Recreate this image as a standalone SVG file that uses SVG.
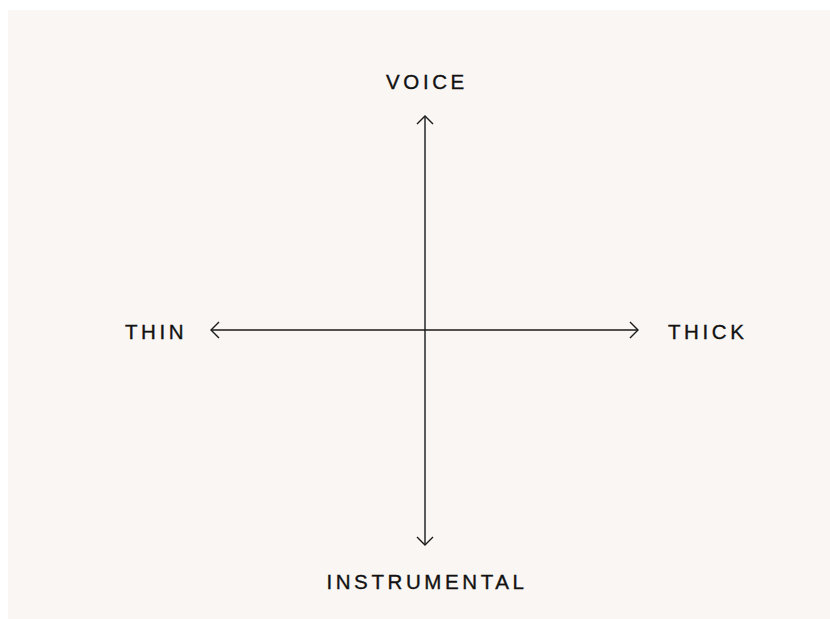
<svg xmlns="http://www.w3.org/2000/svg" width="830" height="619" viewBox="0 0 830 619">
<style>
.lbl{font-family:"Liberation Sans",Arial,sans-serif;font-size:20.5px;letter-spacing:3.6px;fill:#111111;stroke:#111111;stroke-width:0.35}
.ax{stroke:#1a1a1a;stroke-width:1.4;fill:none}
</style>
<defs>
<marker id="chev" viewBox="-12 -12 24 24" markerWidth="24" markerHeight="24" refX="0" refY="0" orient="auto" markerUnits="userSpaceOnUse">
<path d="M-8,-8 L0,0 L-8,8" fill="none" stroke="#1a1a1a" stroke-width="1.4"/>
</marker>
</defs>
<rect width="830" height="619" fill="#ffffff"/>
<rect x="8" y="10" width="822" height="609" fill="#f9f6f3"/>
<g id="connectors">
<line class="ax" x1="425" y1="330" x2="425" y2="116" marker-end="url(#chev)"/>
<line class="ax" x1="425" y1="330" x2="425" y2="545" marker-end="url(#chev)"/>
<line class="ax" x1="425" y1="330" x2="211" y2="330" marker-end="url(#chev)"/>
<line class="ax" x1="425" y1="330" x2="638" y2="330" marker-end="url(#chev)"/>
</g>
<g id="voice"><text class="lbl" x="427" y="89" text-anchor="middle">VOICE</text></g>
<g id="thin"><text class="lbl" x="125" y="338.5">THIN</text></g>
<g id="thick"><text class="lbl" x="668" y="338.5">THICK</text></g>
<g id="instrumental"><text class="lbl" x="427" y="588.5" text-anchor="middle">INSTRUMENTAL</text></g>
</svg>
